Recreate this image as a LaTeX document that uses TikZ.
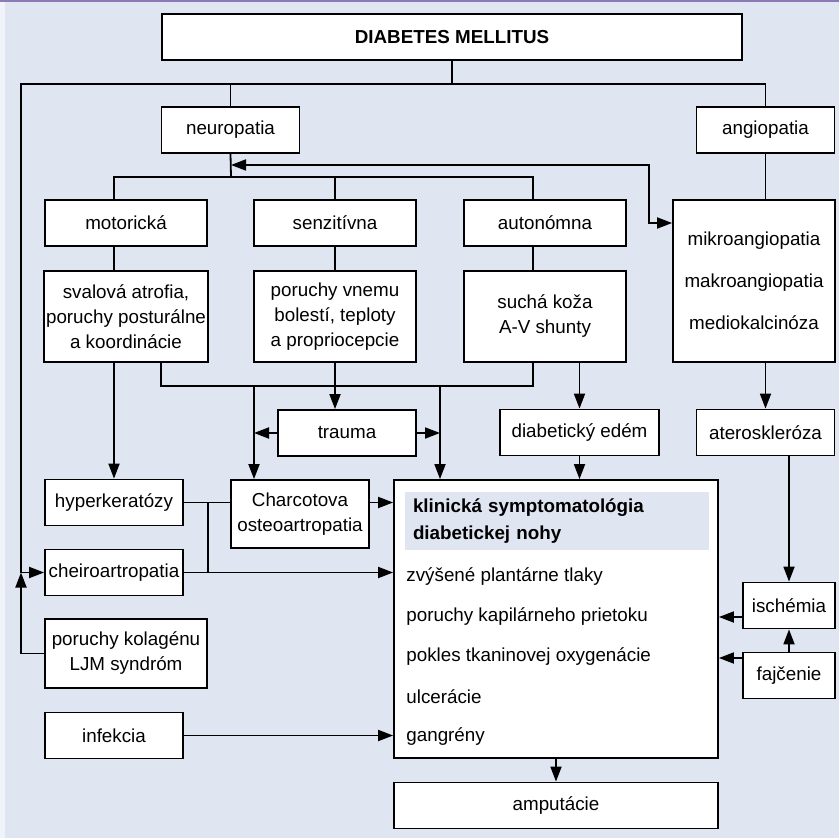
\documentclass[tikz,border=0pt]{standalone}
\usepackage{fontspec}
\setmainfont{Liberation Sans}
\usetikzlibrary{arrows.meta}
\definecolor{panel}{RGB}{223,229,241}
\definecolor{edge}{RGB}{240,243,249}
\definecolor{rule}{RGB}{140,122,182}

\begin{document}
\begin{tikzpicture}[x=0.5pt, y=-0.5pt,
    font=\fontsize{9.4}{12.5}\selectfont,
    box/.style={draw, fill=white, line width=0.9pt, inner sep=1pt, align=center, minimum height=23pt},
    narrow/.style={box, minimum width=69pt},
    wide/.style={box, minimum width=81pt},
    link/.style={line width=0.9pt},
    arr/.style={link, -{Triangle[length=7.5pt, width=5.5pt]}},
    dbl/.style={link, {Triangle[length=7.5pt, width=5.5pt]}-{Triangle[length=7.5pt, width=5.5pt]}},
    item/.style={anchor=west, inner sep=0pt}]
    % Background
    \useasboundingbox (0,0) rectangle (839,838);
    \fill[panel] (0,0) rectangle (839,838);
    \fill[edge] (0,0) rectangle (5,838);
    \draw[rule, line width=1.2pt] (0,1) -- (839,1);

    % Top
    \node[box, minimum width=290pt, font=\fontsize{9.4}{12.5}\selectfont\bfseries] (dm) at (452,37) {DIABETES MELLITUS};
    \node[narrow] (neuro) at (230.5,130) {neuropatia};
    \node[narrow] (angio) at (765.5,130) {angiopatia};

    % Neuropathy branches
    \node[wide] (motor) at (126,223) {motorická};
    \node[wide] (senz) at (335,223) {senzitívna};
    \node[wide] (auton) at (545,223) {autonómna};
    \node[wide, minimum height=45.5pt] (motor2) at (126,316.5) {svalová atrofia,\\poruchy posturálne\\a koordinácie};
    \node[wide, minimum height=45.5pt] (senz2) at (335,316.5) {poruchy vnemu\\bolestí, teploty\\a propriocepcie};
    \node[wide, minimum height=45.5pt] (auton2) at (545,316.5) {suchá koža\\A-V shunty};
    \node[wide, minimum height=81pt, font=\fontsize{9.4}{21}\selectfont] (mikro) at (754,281) {mikroangiopatia\\makroangiopatia\\mediokalcinóza};

    % Middle row
    \node[narrow] (trauma) at (347,433) {trauma};
    \node[box, minimum width=79.5pt] (edem) at (579.5,432.5) {diabetický edém};
    \node[narrow] (ather) at (765.5,432.5) {ateroskleróza};

    % Left column
    \node[narrow] (hyper) at (114,502.5) {hyperkeratózy};
    \node[narrow, minimum height=34pt] (charcot) at (300,514) {Charcotova\\osteoartropatia};
    \node[narrow] (cheiro) at (114,572.5) {cheiroartropatia};
    \node[wide, minimum height=34.5pt] (kolag) at (126,653.5) {poruchy kolagénu\\LJM syndróm};
    \node[narrow] (infek) at (114,735.5) {infekcia};

    % Foot symptoms
    \node[box, minimum width=162pt, minimum height=139pt] (klin) at (556,619) {};
    \node[fill=panel, minimum height=29pt, text width=144pt, inner xsep=4pt, inner ysep=0pt, align=left,
        font=\fontsize{9.4}{13.5}\selectfont\bfseries] (head) at (557,521) {klinická symptomatológia\\diabetickej nohy};
    \foreach \txt [count=\i] in {zvýšené plantárne tlaky, poruchy kapilárneho prietoku,
        pokles tkaninovej oxygenácie, ulcerácie, gangrény}
        \node[item] (sym\i) at (406,537+40*\i) {\txt};
    \node[box, minimum width=162pt] (amput) at (556,805.5) {amputácie};
    \node[box, minimum width=46pt] (isch) at (789,605.5) {ischémia};
    \node[box, minimum width=46pt] (fajc) at (789,675.5) {fajčenie};

    % Junctions
    \coordinate (split) at (452,84);
    \coordinate (lft) at (21,84);
    \coordinate (nbr) at (231,177);
    \coordinate (nret) at (231,165);
    \coordinate (bend) at (649,223);
    \coordinate (mcol) at (161,386);
    \coordinate (lcol) at (254,386);
    \coordinate (rcol) at (440,386);
    \coordinate (acol) at (533,386);
    \coordinate (ischout) at ([yshift=-5.75pt]isch.west);
    \coordinate (fajcout) at ([yshift=8.75pt]fajc.west);

    % Connectors
    \draw[link] (dm.south) -- (split) -| (angio.north);
    \draw[link] (split) -| (neuro.north);
    \draw[arr] (split) -| (lft |- cheiro.west) -- (cheiro.west);
    \draw[link] (neuro.south) -- (nbr);
    \draw[link] (nbr) -| (motor.north -| hyper.center);
    \draw[link] (nbr) -| (senz.north);
    \draw[link] (nbr) -| (auton.north -| acol);
    \draw[dbl] (nret) -| (bend) -- (bend -| mikro.west);
    \draw[link] (motor.south -| hyper.center) -- (motor2.north -| hyper.center);
    \draw[link] (senz.south) -- (senz2.north);
    \draw[link] (auton.south -| acol) -- (auton2.north -| acol);
    \draw[link] (angio.south) -- (angio.south |- mikro.north);

    \draw[arr] (motor2.south -| hyper.center) -- (hyper.north);
    \draw[link] (motor2.south -| mcol) -- (mcol) -- (acol) -- (auton2.south -| acol);
    \draw[arr] (senz2.south) -- (trauma.north -| senz2.south);
    \draw[arr] (lcol) -- (lcol |- charcot.north);
    \draw[arr] (rcol) -- (rcol |- klin.north);
    \draw[arr] (trauma.west) -- (trauma.west -| lcol);
    \draw[arr] (trauma.east) -- (trauma.east -| rcol);
    \draw[arr] (auton2.south -| edem.center) -- (edem.north);
    \draw[arr] (edem.south) -- (edem.south |- klin.north);
    \draw[arr] (mikro.south -| angio.center) -- (ather.north);
    \draw[arr] (ather.south -| isch.center) -- (isch.north);
    \draw[arr] (fajc.north) -- (isch.south);
    \draw[arr] (ischout) -- (ischout -| klin.east);
    \draw[arr] (fajcout) -- (fajcout -| klin.east);

    \draw[link] (hyper.east) -- (hyper.east -| charcot.west);
    \draw[link] (hyper.east -| kolag.east) -- (cheiro.east -| kolag.east);
    \draw[arr] (hyper.east -| charcot.east) -- (hyper.east -| klin.west);
    \draw[arr] (cheiro.east) -- (cheiro.east -| klin.west);
    \draw[arr] (kolag.west) -| (lft |- cheiro.west);
    \draw[arr] (infek.east) -- (infek.east -| klin.west);
    \draw[arr] (klin.south) -- (amput.north);
\end{tikzpicture}
\end{document}
